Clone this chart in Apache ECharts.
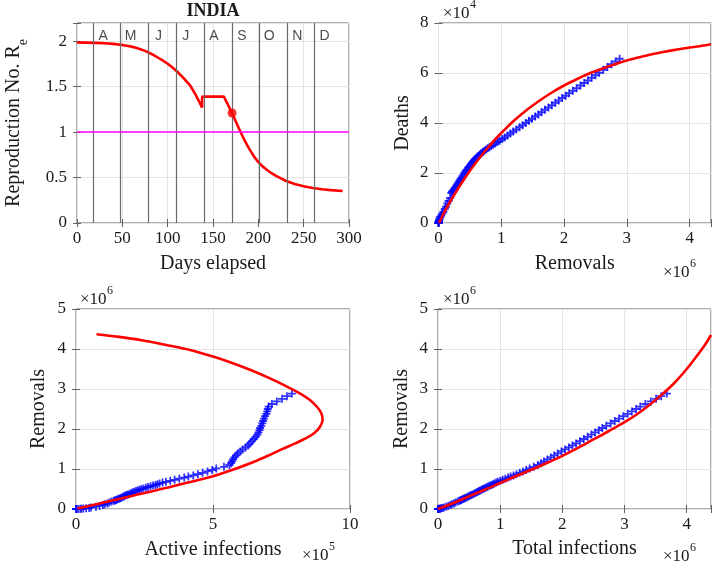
<!DOCTYPE html>
<html><head><meta charset="utf-8">
<script src="https://cdn.jsdelivr.net/npm/echarts@6/dist/echarts.min.js"></script>
<style>html,body{margin:0;padding:0;background:#fff}#c{width:714px;height:563px}</style>
</head><body><div id="c"></div>
<script>
// ---------- DATA ----------
// observed daily series (day index from 14 March)
const days = [0,10,20,30,40,45,50,55,60,65,70,75,80,84,88,91,94,
  96,97,98,99,100,101,102,103,104,105,106,107,108,109,110,111,112,113,114,115,116,117,118,119,120,121,122,123,124,125,126,127,128,129,130,
  131,132,133,134,135,136,137,138,139,140,141,142,143,144,145,146,147,148,149,150,
  151,152,153,154,155,156,157,158,159,160,161,162,163,164,165,166,167,168,169,170,171];
// removals, x10^6
const removals = [0.00001,0.00004,0.0002,0.001,0.0045,0.0075,0.012,0.018,0.026,0.040,0.058,0.078,0.100,0.118,0.140,0.160,0.185,
  0.205,0.215,0.225,0.237,0.250,0.262,0.275,0.290,0.305,0.320,0.335,0.350,0.365,0.382,0.400,0.416,0.432,0.448,0.465,0.481,0.498,0.515,0.532,0.550,0.568,0.585,0.603,0.621,0.640,0.660,0.680,0.705,0.730,0.757,0.785,
  0.810,0.840,0.870,0.905,0.940,0.975,1.015,1.055,1.100,1.145,1.190,1.240,1.290,1.340,1.390,1.440,1.490,1.540,1.590,1.640,
  1.695,1.750,1.805,1.860,1.915,1.970,2.025,2.080,2.140,2.200,2.260,2.320,2.380,2.440,2.500,2.560,2.625,2.690,2.755,2.820,2.885];
// active infections, x10^5
const active = [0.001,0.005,0.025,0.085,0.16,0.20,0.27,0.37,0.48,0.55,0.73,0.86,0.98,1.05,1.15,1.22,1.30,
  1.38,1.42,1.46,1.50,1.55,1.59,1.63,1.67,1.72,1.76,1.80,1.85,1.90,1.96,2.02,2.07,2.13,2.19,2.25,2.31,2.38,2.46,2.55,2.63,2.72,2.81,2.90,2.97,3.05,3.16,3.28,3.44,3.60,3.77,3.95,
  4.10,4.28,4.45,4.62,4.80,4.97,5.12,5.40,5.60,5.66,5.70,5.73,5.78,5.84,5.91,6.00,6.08,6.19,6.28,6.35,
  6.42,6.49,6.56,6.62,6.66,6.70,6.72,6.76,6.80,6.83,6.86,6.90,6.95,6.98,7.00,7.03,7.15,7.33,7.52,7.70,7.88];
// deaths, x10^4
const deaths = [0.0002,0.001,0.007,0.035,0.07,0.095,0.13,0.18,0.24,0.29,0.37,0.45,0.56,0.65,0.78,0.88,1.00,
  1.20,1.24,1.27,1.31,1.35,1.40,1.45,1.51,1.57,1.63,1.69,1.74,1.80,1.87,1.94,2.01,2.07,2.12,2.18,2.24,2.29,2.35,2.41,2.46,2.51,2.56,2.60,2.65,2.69,2.74,2.79,2.84,2.89,2.94,2.99,
  3.03,3.08,3.13,3.18,3.24,3.29,3.36,3.42,3.50,3.58,3.66,3.74,3.83,3.91,4.00,4.09,4.17,4.26,4.34,4.43,
  4.53,4.62,4.71,4.81,4.90,5.00,5.09,5.19,5.29,5.39,5.50,5.60,5.70,5.81,5.91,6.01,6.13,6.24,6.35,6.46,6.57];
// total infections, x10^6
const totals = [0.00011,0.00054,0.0027,0.0095,0.0205,0.0275,0.039,0.055,0.074,0.095,0.131,0.164,0.198,0.223,0.255,0.282,0.315,
  0.343,0.357,0.371,0.387,0.405,0.421,0.438,0.457,0.477,0.496,0.515,0.535,0.555,0.578,0.602,0.622,0.640,0.661,0.680,0.700,0.720,0.742,0.765,0.788,0.812,0.836,0.860,0.883,0.906,0.934,0.963,1.001,1.040,1.083,1.128,
  1.168,1.215,1.262,1.313,1.366,1.418,1.472,1.540,1.605,1.656,1.705,1.758,1.813,1.869,1.926,1.985,2.043,2.104,2.163,2.220,
  2.282,2.344,2.406,2.467,2.526,2.585,2.642,2.706,2.775,2.843,2.911,2.980,3.050,3.118,3.185,3.253,3.335,3.423,3.507,3.590,3.680];

// model: effective reproduction number
const reDays   = [0,10,20,30,40,50,55,60,65,70,75,80,85,90,95,100,105,110,115,120,125,130,135,138,138,162,171,175,180,185,190,195,200,205,210,215,220,225,230,240,250,260,270,280,293];
const reValues = [1.985,1.984,1.981,1.977,1.970,1.958,1.950,1.940,1.928,1.912,1.893,1.870,1.845,1.815,1.785,1.752,1.713,1.670,1.620,1.566,1.510,1.425,1.330,1.270,1.390,1.390,1.210,1.120,1.010,0.905,0.815,0.735,0.670,0.620,0.580,0.545,0.515,0.490,0.465,0.430,0.405,0.385,0.372,0.362,0.352];
const currentDay = 171, currentRe = 1.21;
const thresholdRe = 1;
const monthStarts = [18,48,79,109,140,171,201,232,262];
const monthNames  = ['A','M','J','J','A','S','O','N','D'];

// model: deaths vs removals (x10^6, x10^4)
const modelRemovalsTR = [0.01,0.1,0.2,0.3,0.4,0.5,0.6,0.7,0.8,0.9,1.0,1.2,1.4,1.6,1.8,2.0,2.2,2.4,2.6,2.8,3.0,3.2,3.4,3.6,3.8,4.0,4.2,4.34];
const modelDeathsTR   = [0,0.47,0.92,1.33,1.72,2.09,2.43,2.75,3.05,3.34,3.60,4.09,4.51,4.88,5.21,5.50,5.75,5.98,6.17,6.34,6.50,6.63,6.75,6.85,6.94,7.02,7.09,7.15];
// model: removals vs active (x10^5, x10^6)
const modelActiveBL   = [0.05,0.5,1.0,1.5,2.0,2.5,3.0,3.5,4.0,4.5,5.0,5.5,6.0,6.5,7.0,7.5,8.0,8.4,8.7,8.9,9.0,8.95,8.8,8.55,8.2,7.7,7.1,6.35,5.7,5.0,4.2,3.3,2.4,1.5,0.75];
const modelRemovalsBL = [0.01,0.08,0.16,0.24,0.32,0.40,0.48,0.56,0.65,0.73,0.82,0.93,1.05,1.18,1.33,1.49,1.64,1.77,1.90,2.05,2.23,2.40,2.55,2.72,2.88,3.06,3.26,3.48,3.65,3.81,3.97,4.10,4.22,4.31,4.37];
// model: removals vs total infections (x10^6, x10^6)
const modelTotalBR    = [0,0.25,0.5,0.75,1.0,1.25,1.5,1.75,2.0,2.25,2.5,2.75,3.0,3.2,3.4,3.6,3.8,4.0,4.15,4.3,4.39];
const modelRemovalsBR = [0,0.15,0.32,0.48,0.65,0.82,0.98,1.15,1.33,1.53,1.74,1.95,2.17,2.37,2.60,2.86,3.15,3.50,3.80,4.12,4.35];

// ---------- CHART ----------
const SERIF = '"Liberation Serif","Times New Roman",serif';
const SANS = '"Liberation Sans",Arial,sans-serif';
const AX = '#606060', GRIDC = '#e4e4e4', TXT = '#1a1a1a';
const RED = '#ff0000', BLUE = '#0000ff';
const PLUS = 'path://M3.9,0H6.1V3.9H10V6.1H6.1V10H3.9V6.1H0V3.9H3.9Z';
const zip = (a, b) => a.map((v, i) => [v, b[i]]);
const onTick = (v, iv) => Math.abs(v / iv - Math.round(v / iv)) < 1e-6;
const fmt = v => String(+v.toFixed(3));

function axis(dim, gi, max, interval, name, gap, extra) {
  return Object.assign({
    type: 'value', gridIndex: gi, min: 0, max: max, interval: interval,
    name: name, nameLocation: 'middle', nameGap: gap,
    nameTextStyle: {fontFamily: SERIF, fontSize: 20, color: TXT},
    axisLine: {show: false},
    axisTick: {show: true, inside: true, length: 4, lineStyle: {color: AX}},
    axisLabel: {fontFamily: SERIF, fontSize: 17, color: TXT, margin: dim === 'x' ? 7 : 10,
      formatter: v => onTick(v, interval) ? fmt(v) : ''},
    splitLine: {show: true, lineStyle: {color: GRIDC, width: 1}}
  }, extra || {});
}
// mirrored box ticks on the top and right edges
function mirror(gi, max, interval, pos) {
  return {type: 'value', gridIndex: gi, min: 0, max: max, interval: interval, position: pos,
    axisLine: {show: false}, axisLabel: {show: false}, splitLine: {show: false},
    axisTick: {show: true, inside: true, length: 4, lineStyle: {color: AX}}};
}

const gridBase = {show: true, borderColor: AX, borderWidth: 1, containLabel: false};
const option = {
  animation: false,
  backgroundColor: '#ffffff',
  grid: [
    Object.assign({left: 77, top: 23, width: 272, height: 200}, gridBase),
    Object.assign({left: 438.5, top: 23, width: 272.5, height: 200}, gridBase),
    Object.assign({left: 76, top: 309, width: 274, height: 200}, gridBase),
    Object.assign({left: 438, top: 309, width: 274, height: 200}, gridBase)
  ],
  xAxis: [
    axis('x', 0, 300, 50, 'Days elapsed', 31),
    axis('x', 1, 4.34, 1, 'Removals', 31),
    axis('x', 2, 10, 5, 'Active infections', 31),
    axis('x', 3, 4.39, 1, 'Total infections', 30),
    mirror(0, 300, 50, 'top'), mirror(1, 4.34, 1, 'top'), mirror(2, 10, 5, 'top'), mirror(3, 4.39, 1, 'top')
  ],
  yAxis: [
    axis('y', 0, 2.2, 0.5, '{a|Reproduction No. R}{s|e}', 47, {
      nameTextStyle: {fontFamily: SERIF, fontSize: 20, color: TXT,
        rich: {a: {fontFamily: SERIF, fontSize: 20, color: TXT, lineHeight: 22, verticalAlign: 'top'},
               s: {fontFamily: SERIF, fontSize: 14, color: TXT, lineHeight: 26, verticalAlign: 'bottom'}}}
    }),
    axis('y', 1, 8, 2, 'Deaths', 26),
    axis('y', 2, 5, 1, 'Removals', 27),
    axis('y', 3, 5, 1, 'Removals', 26),
    mirror(0, 2.2, 0.5, 'right'), mirror(1, 8, 2, 'right'), mirror(2, 5, 1, 'right'), mirror(3, 5, 1, 'right')
  ],
  series: [
    // reference lines in the R_e panel
    {type: 'line', xAxisIndex: 0, yAxisIndex: 0, data: [], z: 1, silent: true,
     markLine: {silent: true, symbol: ['none', 'none'], label: {show: false}, animation: false,
       data: monthStarts.map(d => ({xAxis: d, lineStyle: {color: '#6a6a6a', width: 1.2, type: 'solid'}}))
         .concat([{yAxis: thresholdRe, lineStyle: {color: '#ff00ff', width: 1.5, type: 'solid'}}])}},
    // month letters
    {type: 'scatter', xAxisIndex: 0, yAxisIndex: 0, silent: true, z: 3,
     data: monthNames.map((m, i) => [monthStarts[i] + 11, 2.06, m]),
     symbolSize: 1, itemStyle: {color: 'rgba(0,0,0,0)'},
     label: {show: true, position: 'inside', formatter: p => p.data[2],
       fontFamily: SANS, fontSize: 14, color: TXT}},
    {type: 'line', xAxisIndex: 0, yAxisIndex: 0, data: zip(reDays, reValues), z: 4,
     symbol: 'none', lineStyle: {color: RED, width: 2.6}, smooth: false},
    {type: 'scatter', xAxisIndex: 0, yAxisIndex: 0, data: [[currentDay, currentRe]], z: 5,
     symbol: 'circle', symbolSize: 9, itemStyle: {color: RED}},

    // deaths vs removals
    {type: 'scatter', xAxisIndex: 1, yAxisIndex: 1, data: zip(removals, deaths), z: 3,
     symbol: PLUS, symbolSize: 8, itemStyle: {color: BLUE}},
    {type: 'line', xAxisIndex: 1, yAxisIndex: 1, data: zip(modelRemovalsTR, modelDeathsTR), z: 4,
     symbol: 'none', smooth: 0.3, lineStyle: {color: RED, width: 2.6}},

    // removals vs active
    {type: 'scatter', xAxisIndex: 2, yAxisIndex: 2, data: zip(active, removals), z: 3,
     symbol: PLUS, symbolSize: 8, itemStyle: {color: BLUE}},
    {type: 'line', xAxisIndex: 2, yAxisIndex: 2, data: zip(modelActiveBL, modelRemovalsBL), z: 4,
     symbol: 'none', smooth: 0.3, lineStyle: {color: RED, width: 2.6}},

    // removals vs total
    {type: 'scatter', xAxisIndex: 3, yAxisIndex: 3, data: zip(totals, removals), z: 3,
     symbol: PLUS, symbolSize: 8, itemStyle: {color: BLUE}},
    {type: 'line', xAxisIndex: 3, yAxisIndex: 3, data: zip(modelTotalBR, modelRemovalsBR), z: 4,
     symbol: 'none', smooth: 0.3, lineStyle: {color: RED, width: 2.6}}
  ],
  graphic: []
};

function txt(s, x, y, size, weight, align) {
  return {type: 'text', x: x, y: y, silent: true, z: 100,
    style: {text: s, font: (weight || 'normal') + ' ' + size + 'px ' + SERIF, fill: TXT,
      align: align || 'left', verticalAlign: 'middle', textAlign: align || 'left', textVerticalAlign: 'middle'}};
}
function expo(x, y, p) { return [txt('\u00d710', x, y, 17), txt(p, x + 27, y - 9, 12)]; }
option.graphic = [txt('INDIA', 213, 11, 18, 'bold', 'center')]
  .concat(expo(443, 14, '4'))
  .concat(expo(663, 273, '6'))
  .concat(expo(80, 300, '6'))
  .concat(expo(302, 556, '5'))
  .concat(expo(443, 300, '6'))
  .concat(expo(663, 557, '6'));

const chart = echarts.init(document.getElementById('c'), null, {renderer: 'canvas'});
chart.setOption(option);
</script>
</body></html>
